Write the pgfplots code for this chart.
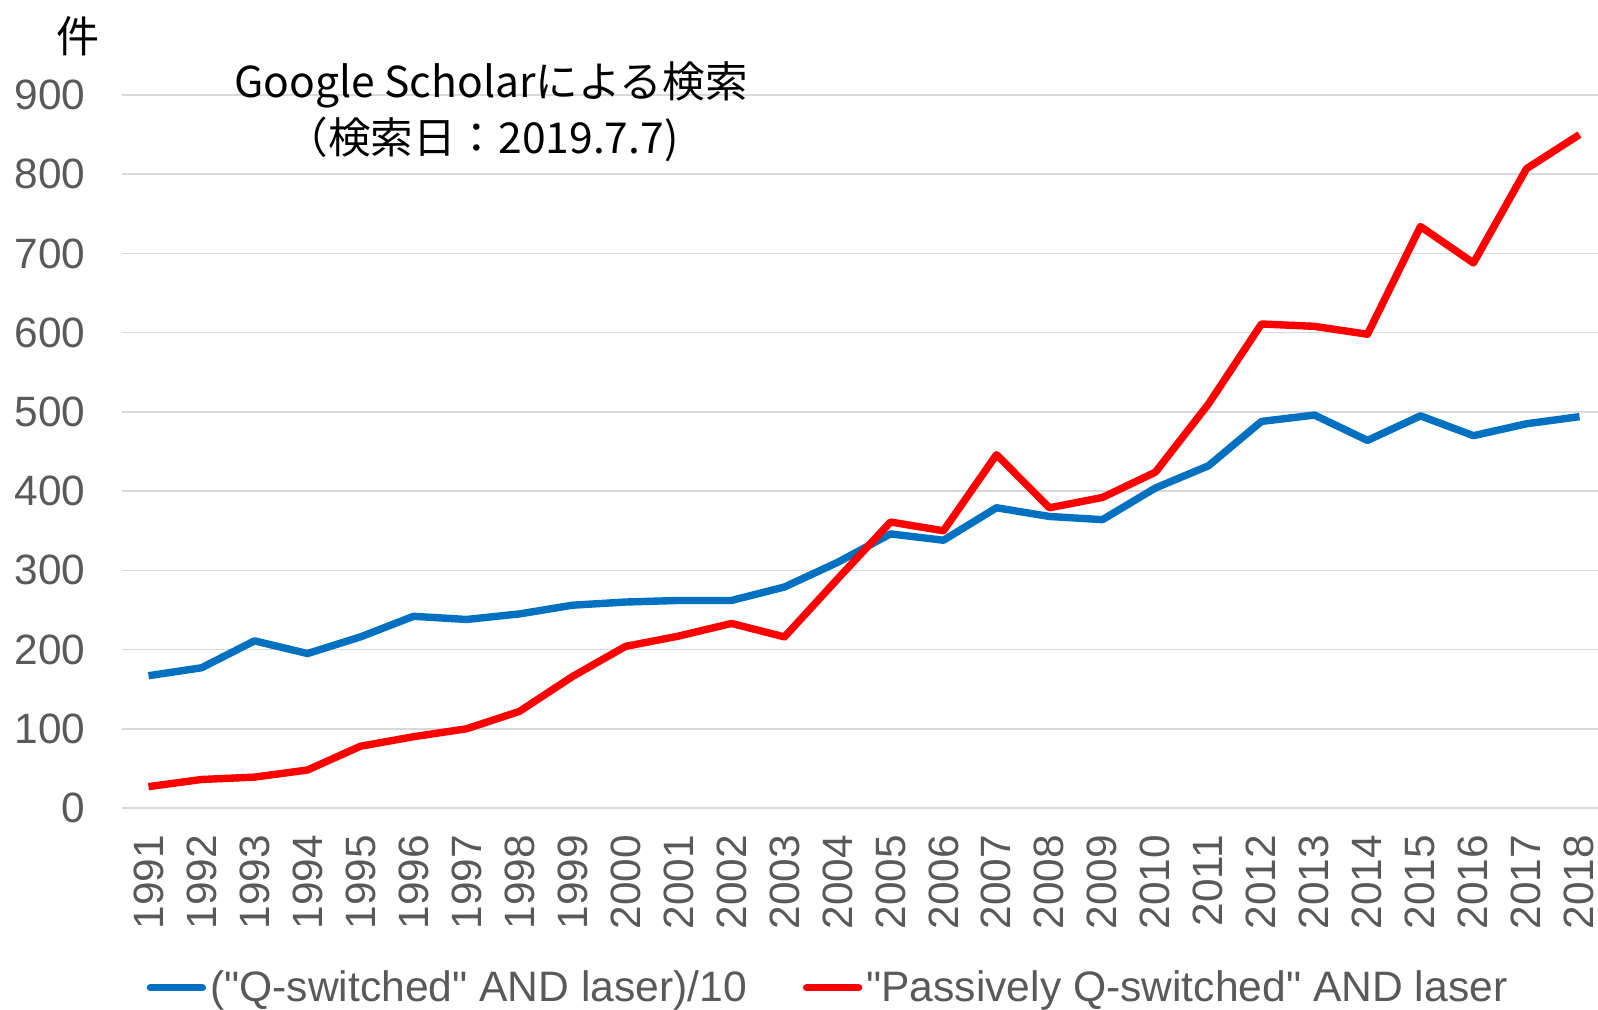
\documentclass[border=0pt]{standalone}
\usepackage{pgfplots}
\pgfplotsset{compat=1.18}
\usepackage{fontspec}
\setmainfont{Liberation Sans}
\newfontfamily\cjk{Noto Sans CJK JP}
\definecolor{qblue}{HTML}{0070C0}
\definecolor{pred}{HTML}{FF0000}
\definecolor{gridc}{HTML}{D9D9D9}
\definecolor{txt}{HTML}{595959}
\begin{document}
\begin{tikzpicture}
\path[use as bounding box] (-61pt,-100.5pt) rectangle (738pt,404pt);
\begin{axis}[
  at={(0pt,0pt)}, anchor=south west,
  scale only axis,
  width=738pt, height=356.5pt,
  xmin=1990.5, xmax=2018.35,
  ymin=0, ymax=900,
  ytick={0,100,...,900},
  xtick={1991,...,2018},
  axis line style={draw=none},
  major tick length=0pt,
  ymajorgrids,
  grid style={gridc, line width=0.75pt},
  tick label style={font=\fontsize{21.2}{25}\selectfont, text=txt},
  /pgf/number format/assume math mode=true,
  /pgf/number format/1000 sep={},
  yticklabel style={anchor=east, xshift=-14.8pt},
  xticklabel style={rotate=90, anchor=east, xshift=-10pt},
  legend style={at={(0.479,-0.252)}, anchor=center, draw=none, fill=none,
    legend columns=2, font=\fontsize{21.3}{25}\selectfont, text=txt,
    /tikz/every even column/.append style={column sep=26pt}},
  legend image code/.code={\draw[#1, line cap=round] (0pt,0pt) -- (26pt,0pt);},
  clip=false,
]
\addplot[qblue, line width=3.7pt, line join=round] coordinates {
(1991,167) (1992,177) (1993,211) (1994,195) (1995,216) (1996,242) (1997,238)
(1998,245) (1999,256) (2000,260) (2001,262) (2002,262) (2003,279) (2004,310)
(2005,346) (2006,338) (2007,379) (2008,368) (2009,364) (2010,404) (2011,432)
(2012,488) (2013,496) (2014,464) (2015,495) (2016,470) (2017,485) (2018,494)
};
\addlegendentry{(\textquotedbl Q-switched\textquotedbl{} AND laser)/10}
\addplot[pred, line width=3.7pt, line join=round] coordinates {
(1991,27) (1992,36) (1993,39) (1994,48) (1995,78) (1996,90) (1997,100)
(1998,122) (1999,166) (2000,204) (2001,217) (2002,233) (2003,216) (2004,289)
(2005,361) (2006,350) (2007,446) (2008,379) (2009,392) (2010,424) (2011,510)
(2012,611) (2013,608) (2014,598) (2015,734) (2016,688) (2017,807) (2018,850)
};
\addlegendentry{\textquotedbl Passively Q-switched\textquotedbl{} AND laser}
\end{axis}
\node[anchor=center, font=\cjk\fontsize{21.5}{24}\selectfont] at (-21.75pt,386pt) {件};
\node[anchor=base, font=\cjk\fontsize{21.3}{25}\selectfont] at (184.5pt,355.5pt) {Google Scholarによる検索};
\node[anchor=base, font=\cjk\fontsize{21.3}{25}\selectfont] at (180pt,327.5pt) {（検索日：2019.7.7)};
\end{tikzpicture}
\end{document}
